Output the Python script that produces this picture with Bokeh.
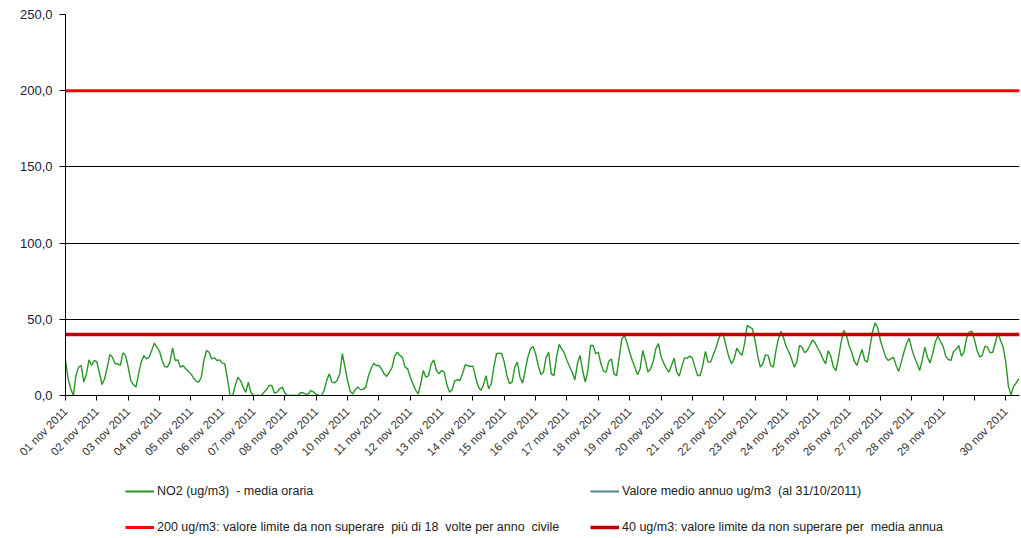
import math
from bokeh.plotting import figure
from bokeh.layouts import column
from bokeh.models import Range1d, FixedTicker, Legend, LegendItem, ColumnDataSource
from bokeh.embed import file_html
from bokeh.resources import INLINE

# ---- data -------------------------------------------------------------
# hourly NO2 series sampled every 2 hours, from 01 nov 2011 00:00
step_hours = 2
no2_values = [
    23.4, 11, 4.4, 0, 13, 18.6, 19.7, 8.8, 14, 23.4, 19.7, 23,
    22, 14.7, 7.2, 11, 18.6, 27, 25, 20.8, 20.8, 19.7, 28, 26.3,
    18.6, 9.8, 7.2, 5.5, 14.2, 21.9, 26.3, 24, 25, 29.5, 34.4, 31.7,
    29, 23, 19, 18.6, 21.9, 31.3, 23, 23.4, 18.6, 19.7, 17.5, 16,
    14.2, 11.6, 9.4, 8.8, 12, 23, 29.5, 28.4, 24, 24.7, 23, 23.4,
    21.2, 20.8, 11, 0, 0, 6.6, 12, 9.8, 5.5, 2, 8.8, 2,
    0, 0, 0, 0, 2.2, 4, 6.6, 6.6, 1.5, 2.2, 4.4, 5.5,
    1.5, 0, 0, 0, 0, 0, 1.8, 1.8, 0.7, 1, 3.3, 2.2,
    0.7, 0, 0, 3.3, 9.8, 14.2, 8.8, 8.3, 9.8, 14.2, 27.4, 18.6,
    9.8, 2.8, 1, 4, 5.5, 3.7, 4.2, 5.5, 13, 17.5, 21.2, 19.7,
    19.7, 17.5, 14.2, 12.5, 15.3, 18.2, 25.6, 28.4, 26.3, 25, 18.6, 17.5,
    12, 7.7, 3.7, 1, 7.7, 16.4, 12, 13, 20.8, 23.4, 16.4, 14.2,
    16.4, 15.3, 7.2, 2.2, 3.7, 9.4, 10.5, 9.8, 14.2, 20, 19.7, 19,
    19.3, 12, 5.9, 3.3, 6.6, 13, 4.4, 7.7, 18.6, 27.4, 27.8, 27.4,
    21.9, 13, 7.7, 8.8, 18.6, 21.9, 12, 8.1, 16.4, 25, 30.6, 32.2,
    27.4, 19.7, 13.8, 15.3, 25, 28.4, 14.2, 13, 25, 33.5, 30.6, 27.8,
    23, 19, 15.3, 10.3, 20.8, 26.3, 16.4, 8.8, 16.4, 32.8, 32.8, 27.4,
    28.4, 20.8, 16, 15.3, 22.5, 24, 14.2, 13, 25, 37.2, 39.4, 34.4,
    28.4, 23, 18.6, 13.6, 17.5, 29.5, 23, 15.3, 17.5, 22.3, 30.6, 34,
    25.8, 21.4, 17.9, 15.3, 19.7, 24.5, 15.3, 12.7, 19.3, 24.7, 24.5, 25.8,
    24.5, 18.6, 13.1, 13.1, 19.7, 28.9, 21.9, 21.9, 26.7, 31, 36.8, 41,
    39, 31.7, 25.2, 20.8, 24, 31, 28.4, 26.3, 34, 46, 44.9, 43.8,
    36.1, 26.3, 18.6, 20.8, 26.7, 26.3, 19.7, 18.6, 29.5, 37.6, 42.2, 37.2,
    31.7, 28.4, 24, 18.6, 21.9, 32.8, 31.7, 28, 29.5, 32.8, 36.5, 34.6,
    31, 28, 24, 20.8, 29.5, 25.8, 18.6, 16.4, 25.2, 35.4, 42.7, 39.4,
    32.8, 28.4, 22.5, 19.7, 25.2, 30.2, 23, 21.9, 31.7, 42, 47.7, 44.2,
    36.1, 30.6, 25.2, 23, 24, 25.2, 19.7, 15.8, 21.9, 28.4, 34, 37.6,
    30.6, 25.2, 21.2, 16.4, 23, 31.7, 25.2, 21.4, 27.4, 35, 39, 35.4,
    32.4, 25.8, 23.6, 23, 28.9, 30.2, 32.8, 25.8, 28.4, 37.6, 41.6, 42.2,
    36.8, 29.5, 25.2, 26.3, 32.4, 31.7, 28, 28.4, 34.6, 41.1, 36.1, 31.7,
    21.9, 6.1, 0.4, 6.1, 8.3, 11,
]
hours = [i * step_hours for i in range(len(no2_values))]

limit_hourly = 200     # ug/m3, not to exceed more than 18 times per year
limit_annual = 40      # ug/m3, annual mean limit
annual_mean_x = []     # "Valore medio annuo" - not visible in the chart
annual_mean_y = []

day_ticks = [24 * d for d in range(31)]
day_labels = ["01 nov 2011", "02 nov 2011", "03 nov 2011", "04 nov 2011", "05 nov 2011",
              "06 nov 2011", "07 nov 2011", "08 nov 2011", "09 nov 2011", "10 nov 2011",
              "11 nov 2011", "12 nov 2011", "13 nov 2011", "14 nov 2011", "15 nov 2011",
              "16 nov 2011", "17 nov 2011", "18 nov 2011", "19 nov 2011", "20 nov 2011",
              "21 nov 2011", "22 nov 2011", "23 nov 2011", "24 nov 2011", "25 nov 2011",
              "26 nov 2011", "27 nov 2011", "28 nov 2011", "29 nov 2011", "",
              "30 nov 2011"]
y_ticks = [0, 50, 100, 150, 200, 250]
y_labels = ["0,0", "50,0", "100,0", "150,0", "200,0", "250,0"]

legend_labels = ["NO2 (ug/m3)  - media oraria",
                 "Valore medio annuo ug/m3  (al 31/10/2011)",
                 "200 ug/m3: valore limite da non superare  più di 18  volte per anno  civile",
                 "40 ug/m3: valore limite da non superare per  media annua"]

# ---- styles -----------------------------------------------------------
font = "Liberation Sans"
C_NO2, W_NO2 = "#289628", 1.4
C_MEAN, W_MEAN = "#4d7f8e", 2
C_200, W_200 = "#ff0000", 3
C_40, W_40 = "#c00000", 3.5

# ---- main chart -------------------------------------------------------
x_end = 730.5
p = figure(width=1021, height=468, output_backend="svg", toolbar_location=None,
           x_range=Range1d(0, x_end), y_range=Range1d(0, 250),
           min_border_left=65, min_border_right=2, min_border_top=14,
           min_border_bottom=73)
p.outline_line_color = None
p.background_fill_color = "white"
p.border_fill_color = "white"

p.xgrid.visible = False
p.ygrid.ticker = FixedTicker(ticks=y_ticks)
p.ygrid.grid_line_color = "black"
p.ygrid.grid_line_width = 1

p.yaxis.ticker = FixedTicker(ticks=y_ticks)
p.yaxis.major_label_overrides = {t: l for t, l in zip(y_ticks, y_labels)}
p.yaxis.major_label_text_font = font
p.yaxis.major_label_text_font_size = "13px"
p.yaxis.major_label_text_color = "#20203a"
p.yaxis.major_tick_in = 0
p.yaxis.major_tick_out = 6
p.yaxis.minor_tick_line_color = None
p.yaxis.major_label_standoff = 7
p.yaxis.axis_line_color = "black"
p.yaxis.major_tick_line_color = "black"

p.xaxis.ticker = FixedTicker(ticks=day_ticks)
p.xaxis.major_label_overrides = {t: l for t, l in zip(day_ticks, day_labels)}
p.xaxis.major_label_orientation = math.pi / 4
p.xaxis.major_label_text_font = font
p.xaxis.major_label_text_font_size = "11.5px"
p.xaxis.major_label_text_color = "#333333"
p.xaxis.major_tick_in = 0
p.xaxis.major_tick_out = 5
p.xaxis.minor_tick_line_color = None
p.xaxis.major_label_standoff = 9
p.xaxis.axis_line_color = "black"
p.xaxis.major_tick_line_color = "black"

src = ColumnDataSource(data=dict(h=hours, v=no2_values))
p.line("h", "v", source=src, line_color=C_NO2, line_width=W_NO2)
p.line(annual_mean_x, annual_mean_y, line_color=C_MEAN, line_width=W_MEAN)
p.line([0, x_end], [limit_hourly, limit_hourly], line_color=C_200, line_width=W_200)
p.line([0, x_end], [limit_annual, limit_annual], line_color=C_40, line_width=W_40)

# ---- legend strip (swatch renderers sit outside the strip's range) ----
leg_h = 70
lp = figure(width=1021, height=leg_h, output_backend="svg", toolbar_location=None,
            x_range=Range1d(0, 1), y_range=Range1d(0, 1),
            min_border=0, x_axis_type=None, y_axis_type=None)
lp.outline_line_color = None
lp.grid.visible = False
lp.background_fill_color = "white"
lp.border_fill_color = "white"

styles = [(C_NO2, W_NO2 + 0.6), (C_MEAN, W_MEAN), (C_200, W_200), (C_40, W_40)]
leg_renderers = [lp.line([-3, -2], [-3, -2], line_color=c, line_width=w) for c, w in styles]
legend = Legend(items=[LegendItem(label=l, renderers=[r], index=0)
                       for l, r in zip(legend_labels, leg_renderers)],
                location=(60, 4), orientation="horizontal", ncols=2,
                padding=0, margin=0, spacing=22,
                border_line_color=None, background_fill_alpha=0,
                glyph_width=29, glyph_height=12, label_height=12, label_width=411,
                label_standoff=3, label_text_font=font,
                label_text_font_size="12.5px", label_text_color="#222222")
lp.add_layout(legend, "center")

layout = column(p, lp, spacing=0)
open("out.html", "w").write(file_html(layout, INLINE))
